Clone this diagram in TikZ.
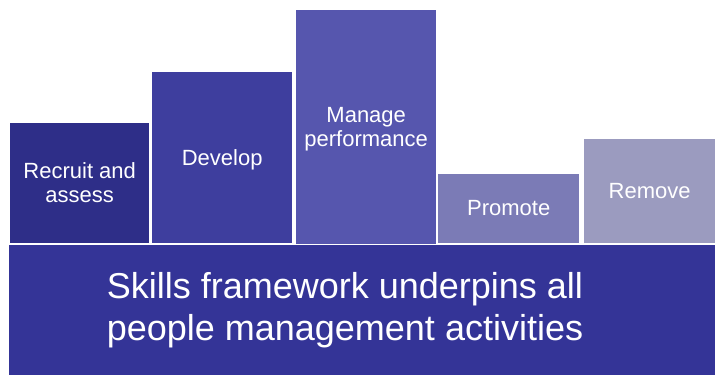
\documentclass[tikz,border=0pt]{standalone}
\usepackage{fontspec}
\setmainfont{Liberation Sans}
\definecolor{recruitcol}{HTML}{2E2E88}
\definecolor{developcol}{HTML}{3E3E9E}
\definecolor{managecol}{HTML}{5656AE}
\definecolor{promotecol}{HTML}{7B7BB6}
\definecolor{removecol}{HTML}{9B9BBF}
\definecolor{basecol}{HTML}{343497}
\begin{document}
\begin{tikzpicture}[x=1pt,y=-1pt,
  bar/.style = {anchor=south west, inner sep=0pt, text=white, align=center,
    text depth=0pt, font=\fontsize{22}{24}\selectfont},
  base/.style = {anchor=north west, inner sep=0pt, fill=basecol}]
\useasboundingbox (0,0) rectangle (715,375);
\node[base, minimum width=706pt, minimum height=130pt] (base) at (9,245) {};
\node[bar, fill=recruitcol, minimum width=139pt, minimum height=120pt] (recruit) at (10,243) {Recruit and\\assess};
\node[bar, fill=developcol, minimum width=140pt, minimum height=171pt] (develop) at (152,243) {Develop};
\node[bar, fill=managecol, minimum width=140pt, minimum height=234pt] (manage) at (296,244) {Manage\\performance};
\node[bar, fill=promotecol, minimum width=141pt, minimum height=69pt] (promote) at (438,243) {Promote};
\node[bar, fill=removecol, minimum width=131pt, minimum height=104pt] (remove) at (584,243) {Remove};
\node[text=white, align=center, inner sep=0pt, font=\fontsize{36}{42}\selectfont] (skills) at (345,310) {Skills framework underpins all\\people management activities};
\end{tikzpicture}
\end{document}
